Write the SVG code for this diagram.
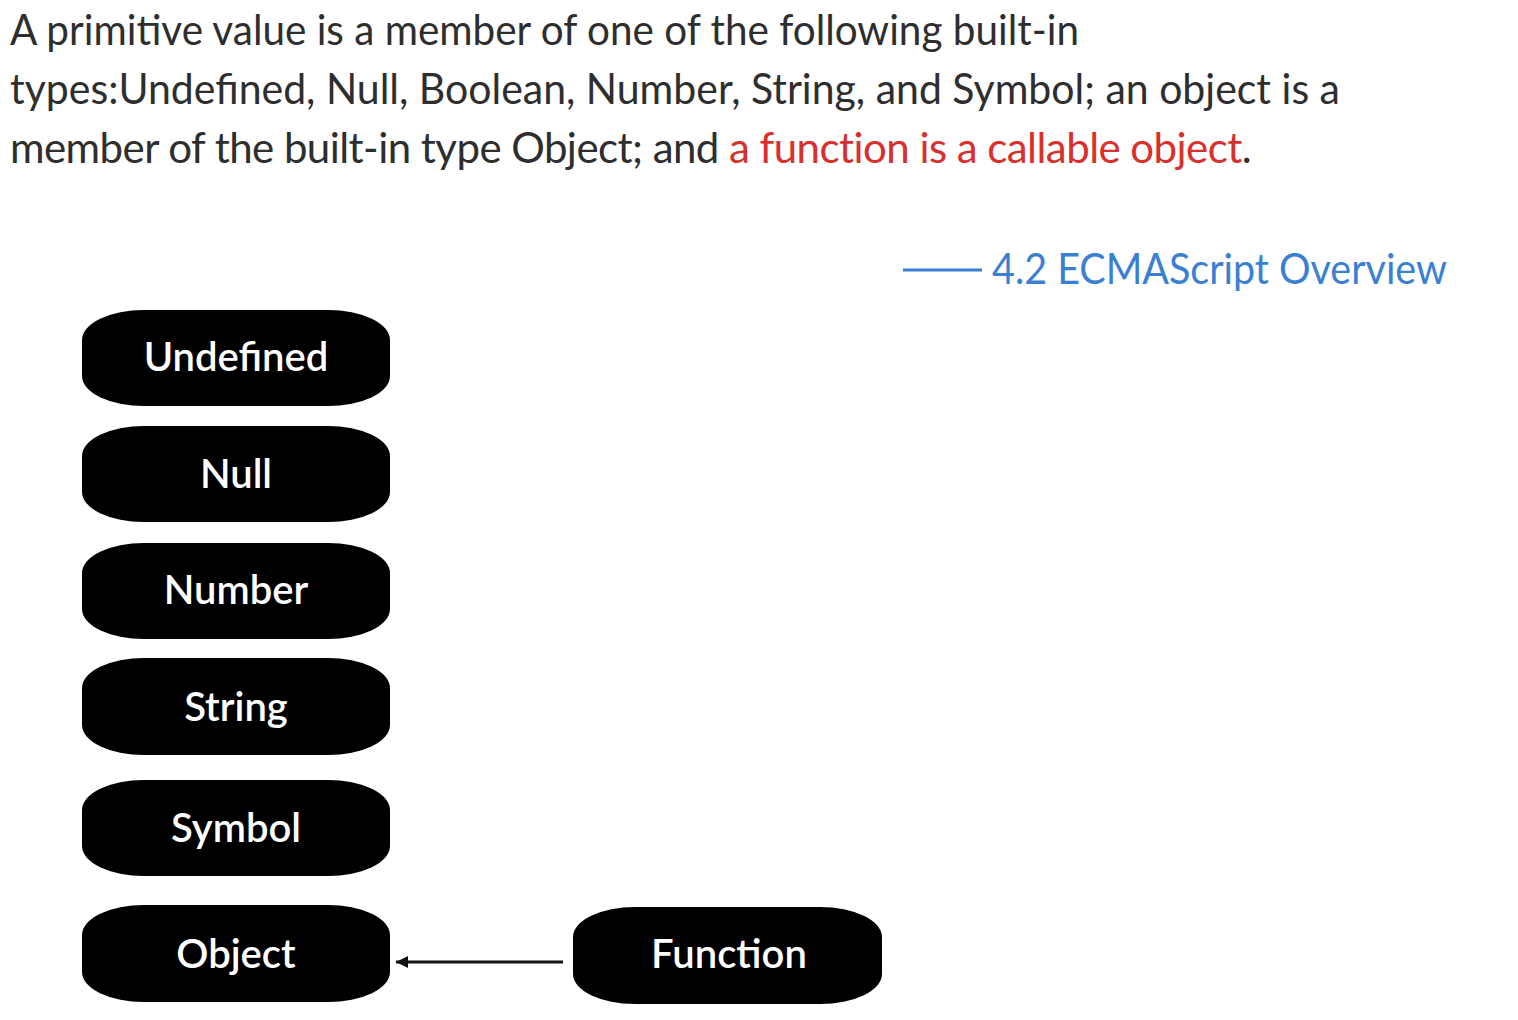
<svg xmlns="http://www.w3.org/2000/svg" width="1518" height="1020" viewBox="0 0 1518 1020">
<defs>
<style>
.para{font-family:Lato,"Noto Sans","Liberation Sans",sans-serif;font-size:42px;fill:#2e2e2e}
.tight{letter-spacing:-0.55px}
.red{fill:#d8302c}
.ref{font-family:Lato,"Noto Sans","Liberation Sans",sans-serif;font-size:42px;fill:#3a80d2}
.node rect{fill:#000}
.node text{font-family:Lato,"Noto Sans","Liberation Sans",sans-serif;font-size:40px;font-weight:600;fill:#fff;text-anchor:middle}
.conn{stroke:#111;stroke-width:3;fill:none}
</style>
<marker id="arr" viewBox="0 0 10 10" refX="10" refY="5" markerWidth="4" markerHeight="4" orient="auto-start-reverse">
<path d="M0,0 L10,5 L0,10 Z" fill="#111"/>
</marker>
</defs>
<rect width="1518" height="1020" fill="#fff"/>
<g id="description">
<text class="para" x="10" y="45" textLength="1069" lengthAdjust="spacingAndGlyphs">A primitive value is a member of one of the following built-in</text>
<text class="para" x="10" y="104" textLength="1330" lengthAdjust="spacingAndGlyphs">types:Undefined, Null, Boolean, Number, String, and Symbol; an object is a</text>
<text class="para tight" x="10" y="163">member of the built-in type Object; and <tspan class="red">a function is a callable object</tspan>.</text>
</g>
<g id="reference">
<line x1="903" y1="270" x2="982" y2="270" stroke="#3a80d2" stroke-width="3"/>
<text class="ref" x="992" y="284" textLength="455" lengthAdjust="spacingAndGlyphs">4.2 ECMAScript Overview</text>
</g>
<g id="connectors">
<line class="conn" x1="563" y1="962" x2="396" y2="962" marker-end="url(#arr)"/>
</g>
<g id="node-undefined" class="node"><rect x="82" y="310" width="308" height="96" rx="62" ry="30"/><text x="236" y="371">Undefined</text></g>
<g id="node-null" class="node"><rect x="82" y="426" width="308" height="96" rx="62" ry="30"/><text x="236" y="488">Null</text></g>
<g id="node-number" class="node"><rect x="82" y="543" width="308" height="96" rx="62" ry="30"/><text x="236" y="604">Number</text></g>
<g id="node-string" class="node"><rect x="82" y="658" width="308" height="97" rx="62" ry="30"/><text x="236" y="721">String</text></g>
<g id="node-symbol" class="node"><rect x="82" y="780" width="308" height="96" rx="62" ry="30"/><text x="236" y="842">Symbol</text></g>
<g id="node-object" class="node"><rect x="82" y="905" width="308" height="97" rx="62" ry="30"/><text x="236" y="968">Object</text></g>
<g id="node-function" class="node"><rect x="573" y="907" width="309" height="97" rx="62" ry="30"/><text x="729" y="968">Function</text></g>
</svg>
